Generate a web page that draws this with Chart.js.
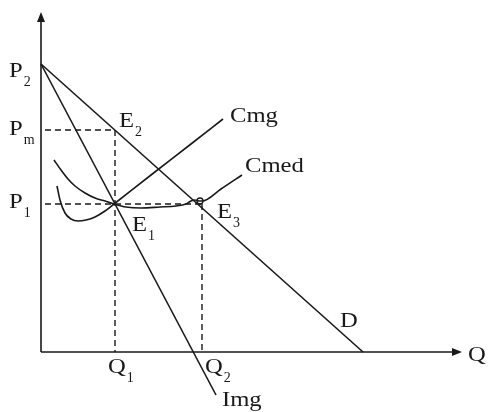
<!DOCTYPE html>
<html>
<head>
<meta charset="utf-8">
<script src="https://cdn.jsdelivr.net/npm/chart.js@4"></script>
<style>
html,body{margin:0;padding:0;background:#fff;}
#wrap{width:491px;height:412px;}
</style>
</head>
<body>
<div id="wrap"><canvas id="c" width="491" height="412"></canvas></div>
<script>
// Key levels (arbitrary units, origin at axes intersection)
const priceLevels = { P2: 288, Pm: 222, P1: 148 };
const quantityLevels = { Q1: 74, Q2: 161 };

// Demand curve D
const demandX = [0, 322];
const demandY = [288, 0];

// Marginal revenue Img
const imgX = [0, 175];
const imgY = [288, -43];

// Marginal cost Cmg
const cmgX = [16, 19, 24, 30, 37, 45, 54, 64, 73, 110, 150, 182];
const cmgY = [166, 152, 139, 133, 131, 132, 135, 141, 148, 177, 208, 233];

// Average cost Cmed
const cmedX = [13, 20, 27, 34, 44, 54, 64, 73, 85, 100, 119, 135, 145, 150, 154, 158, 161, 180, 201];
const cmedY = [192, 182, 173, 166, 159, 154, 151, 148, 145, 144, 145, 146, 148, 151, 152, 151, 151, 163, 177];

// Small loop at E3
const loopX = [159];
const loopY = [151];

// Axes extents
const axisXMax = 421;
const axisYMax = 340;

function pts(xs, ys) { return xs.map((x, i) => ({ x: x, y: ys[i] })); }

const INK = '#1a1819';
const base = { showLine: true, pointRadius: 0, borderColor: INK, borderWidth: 1.6, fill: false, clip: false, tension: 0 };

const P2 = priceLevels.P2, Pm = priceLevels.Pm, P1 = priceLevels.P1;
const Q1 = quantityLevels.Q1, Q2 = quantityLevels.Q2;

const datasets = [
  Object.assign({}, base, { label: 'yaxis', data: pts([0, 0], [0, axisYMax - 8]) }),
  Object.assign({}, base, { label: 'xaxis', data: pts([0, axisXMax - 8], [0, 0]) }),
  Object.assign({}, base, { label: 'Pm dash', borderDash: [6, 4], borderWidth: 1.4, data: pts([4, Q1], [Pm, Pm]) }),
  Object.assign({}, base, { label: 'Q1 dash', borderDash: [6, 4], borderWidth: 1.4, data: pts([Q1, Q1], [Pm, 0]) }),
  Object.assign({}, base, { label: 'P1 dash', borderDash: [6, 4], borderWidth: 1.4, data: pts([4, Q2], [P1, P1]) }),
  Object.assign({}, base, { label: 'Q2 dash', borderDash: [6, 4], borderWidth: 1.4, data: pts([Q2, Q2], [P1, 0]) }),
  Object.assign({}, base, { label: 'D', data: pts(demandX, demandY) }),
  Object.assign({}, base, { label: 'Img', data: pts(imgX, imgY) }),
  Object.assign({}, base, { label: 'Cmg', cubicInterpolationMode: 'monotone', data: pts(cmgX, cmgY) }),
  Object.assign({}, base, { label: 'Cmed', cubicInterpolationMode: 'monotone', data: pts(cmedX, cmedY) }),
  { label: 'loop', data: pts(loopX, loopY), showLine: false, pointRadius: 3, pointBorderWidth: 1.3, pointBorderColor: INK, pointBackgroundColor: 'rgba(0,0,0,0)', clip: false }
];

// Text labels: anchored at data coordinates with pixel offsets to baseline-left
const labels = [
  { t: 'P', s: '2', x: 0, y: P2, dx: -32, dy: 13 },
  { t: 'P', s: 'm', x: 0, y: Pm, dx: -32, dy: 5 },
  { t: 'P', s: '1', x: 0, y: P1, dx: -32, dy: 4 },
  { t: 'E', s: '2', x: Q1, y: Pm, dx: 4, dy: -3 },
  { t: 'E', s: '1', x: Q1, y: P1, dx: 17, dy: 27 },
  { t: 'E', s: '3', x: Q2, y: P1, dx: 15, dy: 14 },
  { t: 'Cmg', s: '', x: cmgX[cmgX.length - 1], y: cmgY[cmgY.length - 1], dx: 7, dy: 3 },
  { t: 'Cmed', s: '', x: cmedX[cmedX.length - 1], y: cmedY[cmedY.length - 1], dx: 3, dy: -3 },
  { t: 'D', s: '', x: demandX[1], y: 0, dx: -23, dy: -25 },
  { t: 'Q', s: '', x: axisXMax, y: 0, dx: 6, dy: 9 },
  { t: 'Q', s: '1', x: Q1, y: 0, dx: -7, dy: 21 },
  { t: 'Q', s: '2', x: Q2, y: 0, dx: 3, dy: 21 },
  { t: 'Img', s: '', x: imgX[1], y: imgY[1], dx: 6, dy: 11 }
];

const FONT = "'Liberation Serif', serif";

const overlay = {
  id: 'overlay',
  afterDatasetsDraw(chart) {
    const ctx = chart.ctx;
    const xs = chart.scales.x, ys = chart.scales.y;
    ctx.save();
    ctx.fillStyle = INK;
    // y-axis arrow head
    const ax = xs.getPixelForValue(0), ay = ys.getPixelForValue(axisYMax);
    ctx.beginPath();
    ctx.moveTo(ax, ay);
    ctx.lineTo(ax - 4, ay + 10);
    ctx.lineTo(ax + 4, ay + 10);
    ctx.closePath();
    ctx.fill();
    // x-axis arrow head
    const bx = xs.getPixelForValue(axisXMax), by = ys.getPixelForValue(0);
    ctx.beginPath();
    ctx.moveTo(bx, by);
    ctx.lineTo(bx - 10, by - 4);
    ctx.lineTo(bx - 10, by + 4);
    ctx.closePath();
    ctx.fill();
    // labels
    ctx.textBaseline = 'alphabetic';
    ctx.textAlign = 'left';
    labels.forEach(l => {
      const px = xs.getPixelForValue(l.x) + l.dx;
      const py = ys.getPixelForValue(l.y) + l.dy;
      ctx.font = '22px ' + FONT;
      ctx.save();
      ctx.translate(px, py);
      ctx.scale(1.12, 1);
      ctx.fillText(l.t, 0, 0);
      const w = ctx.measureText(l.t).width * 1.12;
      ctx.restore();
      if (l.s) {
        ctx.font = '14px ' + FONT;
        ctx.fillText(l.s, px + w + 1, py + 9);
      }
    });
    ctx.restore();
  }
};

new Chart(document.getElementById('c'), {
  type: 'scatter',
  data: { datasets: datasets },
  options: {
    responsive: false,
    animation: false,
    layout: { padding: 0, autoPadding: false },
    plugins: { legend: { display: false }, tooltip: { enabled: false } },
    scales: {
      x: { type: 'linear', min: -41, max: 450, display: false },
      y: { type: 'linear', min: -60, max: 352, display: false }
    }
  },
  plugins: [overlay]
});
</script>
</body>
</html>
